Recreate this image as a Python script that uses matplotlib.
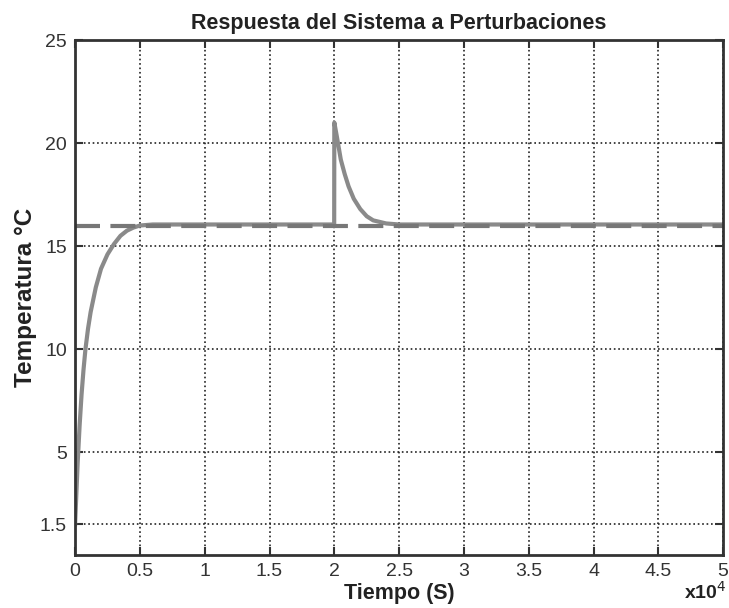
import numpy as np
import matplotlib.pyplot as plt

plt.rcParams['font.family'] = ['Liberation Sans', 'DejaVu Sans']

# respuesta del sistema (tiempo en s, temperatura en °C)
t_resp = [0, 100, 200, 350, 500, 650, 800, 1000, 1200, 1600, 2000, 2500, 3000,
          3500, 4000, 4500, 5000, 6000, 19990,
          20000, 20200, 20500, 20800, 21100, 21500, 22000, 22500,
          23000, 24000, 25000, 50000]
y_resp = [1.5, 3.0, 4.5, 6.3, 7.8, 9.0, 10.0, 11.0, 11.8, 13.0, 13.9, 14.6, 15.1,
          15.5, 15.75, 15.9, 16.0, 16.05, 16.05,
          21.0, 20.3, 19.2, 18.5, 17.9, 17.3, 16.8, 16.45,
          16.25, 16.1, 16.05, 16.05]
referencia = 16.0

xticks = [0, 5000, 10000, 15000, 20000, 25000, 30000, 35000, 40000, 45000, 50000]
xticklabels = ['0', '0.5', '1', '1.5', '2', '2.5', '3', '3.5', '4', '4.5', '5']
yticks = [1.5, 5, 10, 15, 20, 25]
yticklabels = ['1.5', '5', '10', '15', '20', '25']

fig = plt.figure(figsize=(7.29, 6.08), dpi=100)
ax = fig.add_axes([0.103, 0.087, 0.889, 0.847])

ax.plot(t_resp, y_resp, color='#8a8a8a', linewidth=3)
ax.axhline(referencia, color='#777777', linewidth=3, linestyle=(0, (6, 2.5)))

ax.set_xlim(0, 50000)
ax.set_ylim(0, 25)
ax.set_xticks(xticks)
ax.set_xticklabels(xticklabels)
ax.set_yticks(yticks)
ax.set_yticklabels(yticklabels)
ax.tick_params(direction='in', length=6, width=1.5, colors='#333333',
               labelsize=14, top=True, right=True, pad=6)
ax.grid(True, color='#222222', linestyle=':', linewidth=1.2)
for s in ax.spines.values():
    s.set_color('#333333')
    s.set_linewidth(2)

ax.set_title('Respuesta del Sistema a Perturbaciones', fontsize=15.5,
             fontweight='bold', color='#222222', pad=8)
ax.set_xlabel('Tiempo (S)', fontsize=15.5, fontweight='bold', color='#222222', labelpad=2)
ax.set_ylabel('Temperatura °C', fontsize=17.5, fontweight='bold',
              color='#222222', labelpad=2)
fig.text(0.997, 0.008, 'x10$^4$', ha='right', va='bottom', fontsize=14,
         fontweight='bold', color='#222222')

fig.savefig('out.png', dpi=100)
